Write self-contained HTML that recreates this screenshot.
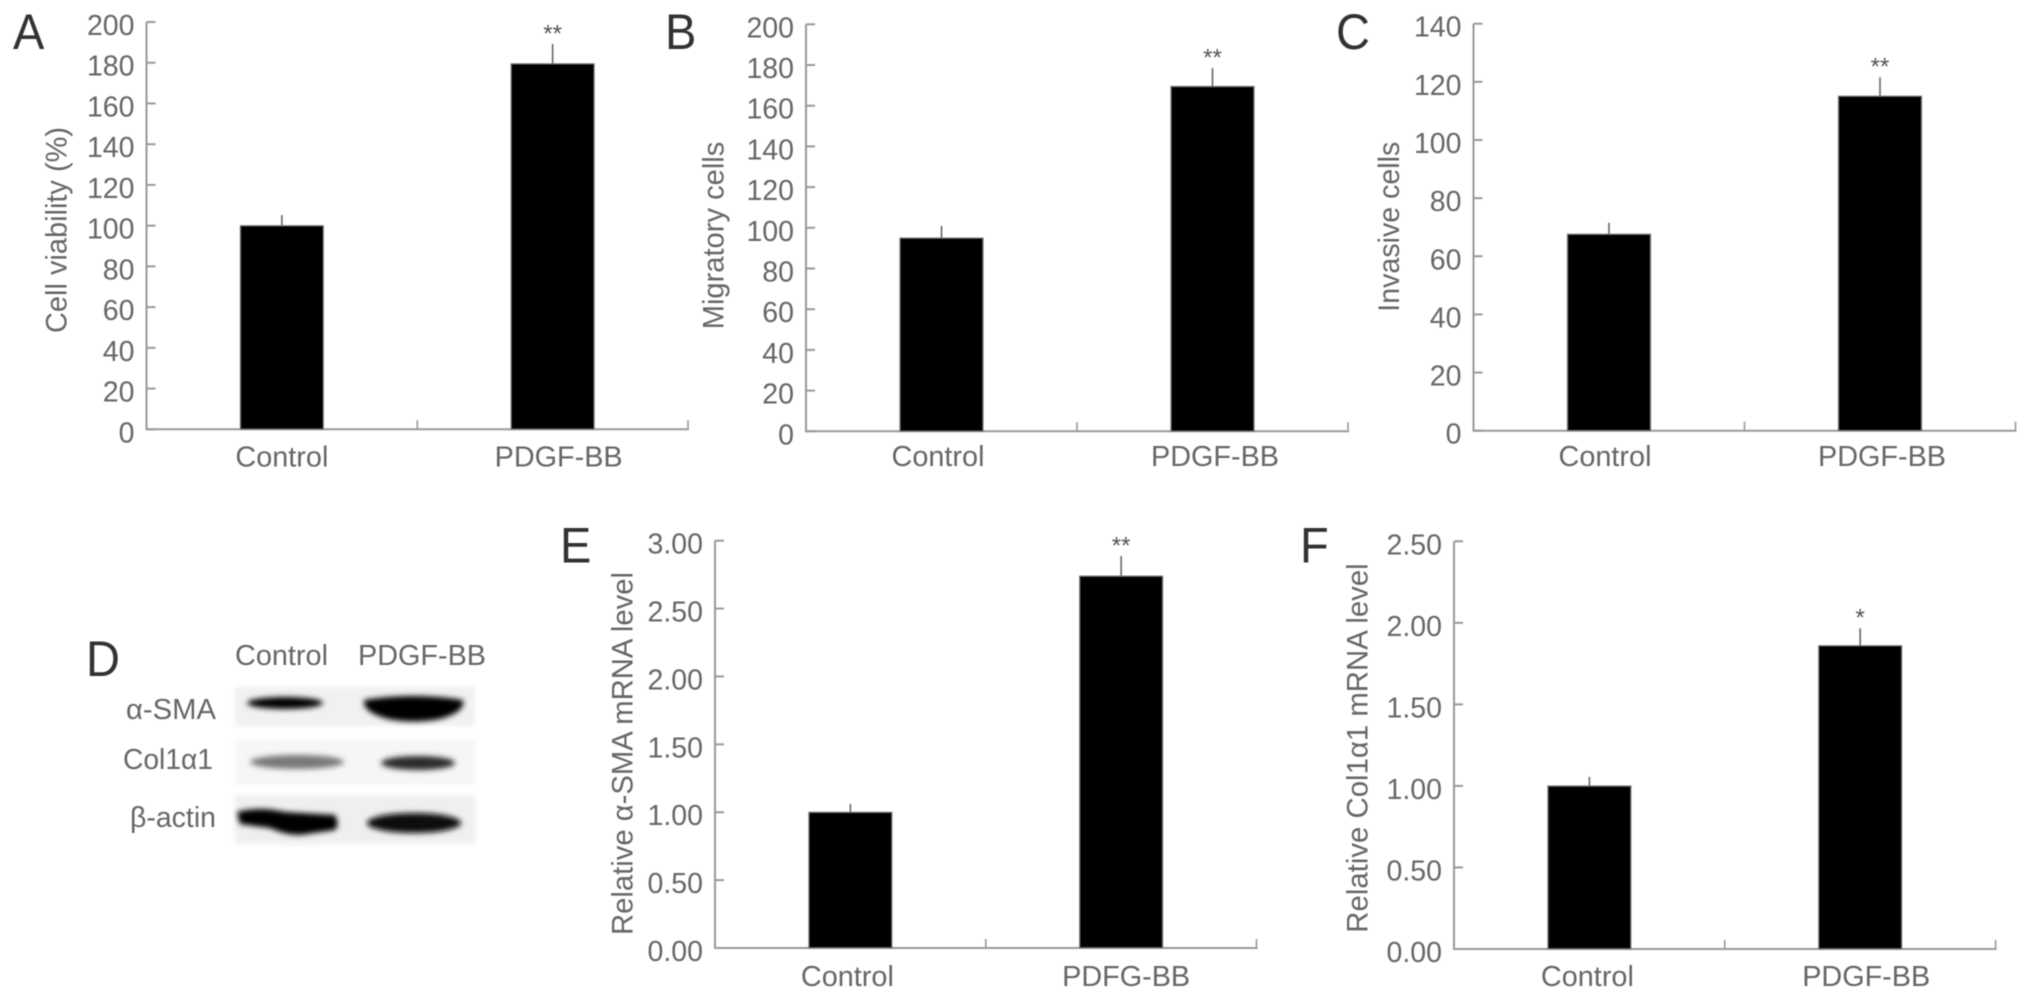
<!DOCTYPE html>
<html lang="en">
<head>
<meta charset="utf-8">
<title>PDGF-BB effects on cell viability, migration, invasion and mRNA levels</title>
<style>
  html, body { margin: 0; padding: 0; background: #fff; width: 2032px; height: 999px; overflow: hidden; }
  svg { display: block; }
  text { font-family: "Liberation Sans", "DejaVu Sans", sans-serif; fill: #666; }
  .letter { fill: #333; font-size: 47px; }
  .tick-label { font-size: 28.5px; text-anchor: end; }
  .cat-label { font-size: 29px; text-anchor: middle; }
  .axis-title { font-size: 30px; }
  .star { font-size: 24px; text-anchor: middle; fill: #555; }
  .blot-label { font-size: 29px; }
</style>
</head>
<body>
<svg id="figure" xmlns="http://www.w3.org/2000/svg" width="2032" height="999" viewBox="0 0 2032 999">
  <defs>
    <filter id="soft" x="-5%" y="-5%" width="110%" height="110%"><feGaussianBlur stdDeviation="0.55"/></filter>
    <filter id="bandBlur" x="-30%" y="-80%" width="160%" height="260%"><feGaussianBlur stdDeviation="3"/></filter>
    <filter id="bgBlur" x="-5%" y="-20%" width="110%" height="140%"><feGaussianBlur stdDeviation="2.5"/></filter>
  </defs>
  <rect width="2032" height="999" fill="#fff"/>

  <g id="charts" filter="url(#soft)"></g>

  <g filter="url(#soft)">
    <text class="letter" transform="translate(13,49) scale(1,1.06)">A</text>
    <text class="letter" transform="translate(665,49) scale(1,1.06)">B</text>
    <text class="letter" transform="translate(1336,49) scale(1,1.06)">C</text>
    <text class="letter" transform="translate(86,676) scale(1,1.06)">D</text>
    <text class="letter" transform="translate(560,562.5) scale(1,1.06)">E</text>
    <text class="letter" transform="translate(1300,562.5) scale(1,1.06)">F</text>
  </g>

  <g>
    <g filter="url(#soft)">
      <text class="blot-label" x="235" y="665" textLength="93" lengthAdjust="spacingAndGlyphs">Control</text>
      <text class="blot-label" x="358" y="665" textLength="128" lengthAdjust="spacingAndGlyphs">PDGF-BB</text>
      <text class="blot-label" x="126" y="719" textLength="90" lengthAdjust="spacingAndGlyphs">α-SMA</text>
      <text class="blot-label" x="123" y="769" textLength="90" lengthAdjust="spacingAndGlyphs">Col1α1</text>
      <text class="blot-label" x="130" y="827" textLength="86" lengthAdjust="spacingAndGlyphs">β-actin</text>
    </g>
    <g>
      <rect x="235" y="687" width="240" height="39" fill="#f1f1f1" filter="url(#bgBlur)"/>
      <ellipse cx="285" cy="703" rx="38" ry="6" fill="#000" filter="url(#bandBlur)"/>
      <path d="M364 700 Q413 692 463 700 Q466 712 440 719 Q413 724 388 719 Q362 712 364 700 Z" fill="#000" filter="url(#bandBlur)"/>
    </g>
    <g>
      <rect x="235" y="739" width="240" height="46" fill="#f6f6f6" filter="url(#bgBlur)"/>
      <ellipse cx="297" cy="762" rx="47" ry="7" fill="#787878" filter="url(#bandBlur)"/>
      <ellipse cx="418" cy="763" rx="37" ry="7" fill="#2c2c2c" filter="url(#bandBlur)"/>
    </g>
    <g>
      <rect x="235" y="795" width="240" height="49" fill="#efefef" filter="url(#bgBlur)"/>
      <path d="M237 812 Q260 806 285 812 L335 815 Q340 824 335 830 L300 835 Q285 835 270 828 L240 824 Z" fill="#000" filter="url(#bandBlur)"/>
      <ellipse cx="414" cy="823" rx="47" ry="10" fill="#0a0a0a" filter="url(#bandBlur)"/>
    </g>
  </g>
</svg>

<script>
// Panel A
const categoriesA = ['Control', 'PDGF-BB'];
const valuesA = [100, 179.5];
const errorsA = [5.2, 9.7];
const starsA = ['', '**'];
const ticksA = ['0', '20', '40', '60', '80', '100', '120', '140', '160', '180', '200'];
// Panel B
const categoriesB = ['Control', 'PDGF-BB'];
const valuesB = [95, 169.5];
const errorsB = [5.9, 9];
const starsB = ['', '**'];
const ticksB = ['0', '20', '40', '60', '80', '100', '120', '140', '160', '180', '200'];
// Panel C
const categoriesC = ['Control', 'PDGF-BB'];
const valuesC = [67.6, 115.1];
const errorsC = [3.9, 6.5];
const starsC = ['', '**'];
const ticksC = ['0', '20', '40', '60', '80', '100', '120', '140'];
// Panel E
const categoriesE = ['Control', 'PDFG-BB'];
const valuesE = [1.0, 2.74];
const errorsE = [0.06, 0.147];
const starsE = ['', '**'];
const ticksE = ['0.00', '0.50', '1.00', '1.50', '2.00', '2.50', '3.00'];
// Panel F
const categoriesF = ['Control', 'PDGF-BB'];
const valuesF = [1.0, 1.86];
const errorsF = [0.055, 0.107];
const starsF = ['', '*'];
const ticksF = ['0.00', '0.50', '1.00', '1.50', '2.00', '2.50'];

const SVG_NS = 'http://www.w3.org/2000/svg';
const root = document.getElementById('charts');

function make(parent, tag, attrs, text) {
  const el = document.createElementNS(SVG_NS, tag);
  for (const k in attrs) el.setAttribute(k, attrs[k]);
  if (text !== undefined) el.textContent = text;
  parent.appendChild(el);
  return el;
}

function drawPanel(id, categories, values, errors, stars, ticks, title, box) {
  const panel = make(root, 'g', {});
  
  

  const tickNums = ticks.map(parseFloat);
  const maxTick = Math.max.apply(null, tickNums);
  const yScale = function (v) { return box.bottom - (v / maxTick) * (box.bottom - box.top); };
  const band = (box.right - box.left) / categories.length;
  const xScale = function (i) { return box.left + band * (i + 0.5); };
  const barWidth = band * 0.307;
  const axisColor = '#999';

  const yAxis = make(panel, 'line', { x1: box.left, x2: box.left, y1: box.top, y2: box.bottom, stroke: axisColor, 'stroke-width': 2 });
  
  

  const xAxis = make(panel, 'line', { x1: box.left - 1, x2: box.right + 1, y1: box.bottom, y2: box.bottom, stroke: axisColor, 'stroke-width': 2 });
  
  

  ticks.forEach(function (label, i) {
    const y = yScale(tickNums[i]);
    const tick = make(panel, 'line', { x1: box.left, x2: box.left + 9, y1: y, y2: y, stroke: axisColor, 'stroke-width': 2 });
    
    
    const tickText = make(panel, 'text', { class: 'tick-label', x: box.left - 12, y: y + 13 }, label);
    
    
  });

  categories.forEach(function (name, i) {
    const edge = box.left + band * (i + 1);
    const xTick = make(panel, 'line', { x1: edge, x2: edge, y1: box.bottom - 9, y2: box.bottom, stroke: axisColor, 'stroke-width': 1.6 });
    
    

    const cx = xScale(i);
    const topY = yScale(values[i]);
    const errY = yScale(values[i] + errors[i]);

    const err = make(panel, 'line', { x1: cx, x2: cx, y1: errY, y2: topY, stroke: '#666', 'stroke-width': 1.6 });
    
    

    const bar = make(panel, 'rect', { x: cx - barWidth / 2, y: topY, width: barWidth, height: box.bottom - topY, fill: '#000', stroke: '#777', 'stroke-width': 1 });
    
    

    if (stars[i]) {
      const star = make(panel, 'text', { class: 'star', x: cx, y: errY - 2.5 }, stars[i]);
      
      
    }

    const catText = make(panel, 'text', { class: 'cat-label', x: cx + (i === 0 ? box.ctrlShift : box.treatShift), y: box.labelY, textLength: i === 0 ? 93 : 128, lengthAdjust: 'spacingAndGlyphs' }, name);
    
    
  });

  const tx = box.titleX, ty = box.titleBottom;
  const titleEl = make(panel, 'text', { class: 'axis-title', x: 0, y: 0, textLength: box.titleLength, lengthAdjust: 'spacingAndGlyphs', transform: 'translate(' + tx + ',' + ty + ') rotate(-90)' }, title);
  
  
}

drawPanel('a', categoriesA, valuesA, errorsA, starsA, ticksA, 'Cell viability (%)',
  { left: 146.5, right: 688, top: 22, bottom: 429.3, labelY: 466.5, titleX: 66.5, titleBottom: 333, titleLength: 206, ctrlShift: 0, treatShift: 6 });
drawPanel('b', categoriesB, valuesB, errorsB, starsB, ticksB, 'Migratory cells',
  { left: 806, right: 1348, top: 24.3, bottom: 431.3, labelY: 466, titleX: 723.7, titleBottom: 329.3, titleLength: 187.6, ctrlShift: -3.5, treatShift: 2.5 });
drawPanel('c', categoriesC, valuesC, errorsC, starsC, ticksC, 'Invasive cells',
  { left: 1473.5, right: 2015.5, top: 23.7, bottom: 430.7, labelY: 466, titleX: 1399, titleBottom: 311.7, titleLength: 170, ctrlShift: -4, treatShift: 2 });
drawPanel('e', categoriesE, valuesE, errorsE, starsE, ticksE, 'Relative α-SMA mRNA level',
  { left: 715, right: 1256.5, top: 540.7, bottom: 948, labelY: 986, titleX: 632.3, titleBottom: 935, titleLength: 363, ctrlShift: -3, treatShift: 5 });
drawPanel('f', categoriesF, valuesF, errorsF, starsF, ticksF, 'Relative Col1α1 mRNA level',
  { left: 1454, right: 1995.6, top: 541.3, bottom: 949, labelY: 986, titleX: 1367.7, titleBottom: 932.7, titleLength: 369.4, ctrlShift: -2, treatShift: 6 });
</script>
</body>
</html>
